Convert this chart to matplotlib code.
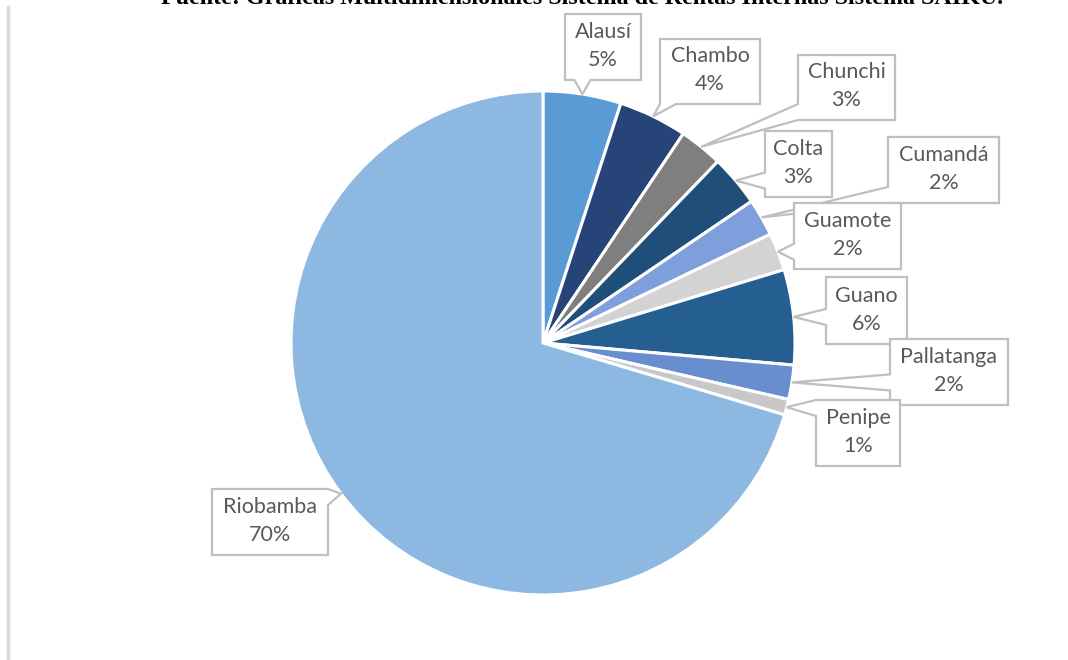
import numpy as np
import matplotlib
matplotlib.use("Agg")
import matplotlib.pyplot as plt
from matplotlib.patches import Polygon

# Recaudación por cantón (participación en %)
cantones = ["Alausí", "Chambo", "Chunchi", "Colta", "Cumandá",
            "Guamote", "Guano", "Pallatanga", "Penipe", "Riobamba"]
valores = [5.0, 4.4, 2.8, 3.3, 2.4, 2.4, 6.1, 2.2, 1.0, 70.4]
colores = ["#5B9BD5", "#264478", "#7F7F7F", "#1F4E79", "#7F9FDC",
           "#D3D3D3", "#255E91", "#698ED0", "#C8C8C8", "#8DB8E2"]

W, H = 1068, 660
CX, CY, R = 543, 343, 252

# label boxes in pixel coords (x0, y0, x1, y1), y pointing down
cajas = [(565, 14, 641, 80), (660, 39, 760, 104), (798, 55, 895, 120),
         (765, 131, 832, 197), (888, 137, 999, 203), (794, 203, 901, 269),
         (826, 277, 907, 344), (890, 339, 1008, 405), (816, 400, 900, 466),
         (212, 489, 328, 555)]

fig = plt.figure(figsize=(W / 100, H / 100), dpi=100)
ax = fig.add_axes([0, 0, 1, 1])

wedges, _ = ax.pie(valores, colors=colores, startangle=90, counterclock=False,
                   center=(CX, H - CY), radius=R,
                   wedgeprops=dict(edgecolor="white", linewidth=2.2))
ax.set_xlim(0, W)
ax.set_ylim(0, H)
ax.set_aspect("equal")
ax.axis("off")


def callout(box, tip, w=16):
    x0, y0, x1, y1 = box
    tx, ty = tip
    dx = x0 - tx if tx < x0 else (tx - x1 if tx > x1 else 0)
    dy = y0 - ty if ty < y0 else (ty - y1 if ty > y1 else 0)
    if dx >= dy:
        c = min(max(ty, y0 + w / 2), y1 - w / 2)
        b0, b1 = c - w / 2, c + w / 2
        if tx < x0:
            pts = [(x0, y0), (x1, y0), (x1, y1), (x0, y1),
                   (x0, b1), (tx, ty), (x0, b0)]
        else:
            pts = [(x0, y0), (x1, y0), (x1, b0), (tx, ty), (x1, b1),
                   (x1, y1), (x0, y1)]
    else:
        c = min(max(tx, x0 + w / 2), x1 - w / 2)
        b0, b1 = c - w / 2, c + w / 2
        if ty > y1:
            pts = [(x0, y0), (x1, y0), (x1, y1), (b1, y1), (tx, ty),
                   (b0, y1), (x0, y1)]
        else:
            pts = [(x0, y0), (b0, y0), (tx, ty), (b1, y0), (x1, y0),
                   (x1, y1), (x0, y1)]
    return [(x, H - y) for x, y in pts]


for w, nombre, v, box in zip(wedges, cantones, valores, cajas):
    ang = np.deg2rad((w.theta1 + w.theta2) / 2)
    tip = (CX + R * np.cos(ang), CY - R * np.sin(ang))
    ax.add_patch(Polygon(callout(box, tip), closed=True, facecolor="white",
                         edgecolor="#BFBFBF", linewidth=1.6, zorder=5))
    ax.text((box[0] + box[2]) / 2, H - (box[1] + box[3]) / 2 + 1,
            f"{nombre}\n{v:.0f}%", ha="center", va="center",
            fontsize=15.5, family="Lato", color="#595959",
            linespacing=1.5, zorder=6)

# left rule and source line cut by the top edge
ax.plot([8, 8], [0, H - 7], color="#D9D9D9", linewidth=2.5)
ax.text(582, H - 4, "Fuente: Gráficas Multidimensionales Sistema de Rentas "
        "Internas Sistema SAIKU.", ha="center", va="baseline",
        fontsize=17.3, family="Liberation Serif", fontweight="bold",
        color="black")

fig.savefig("out.png", dpi=100, facecolor="white")
